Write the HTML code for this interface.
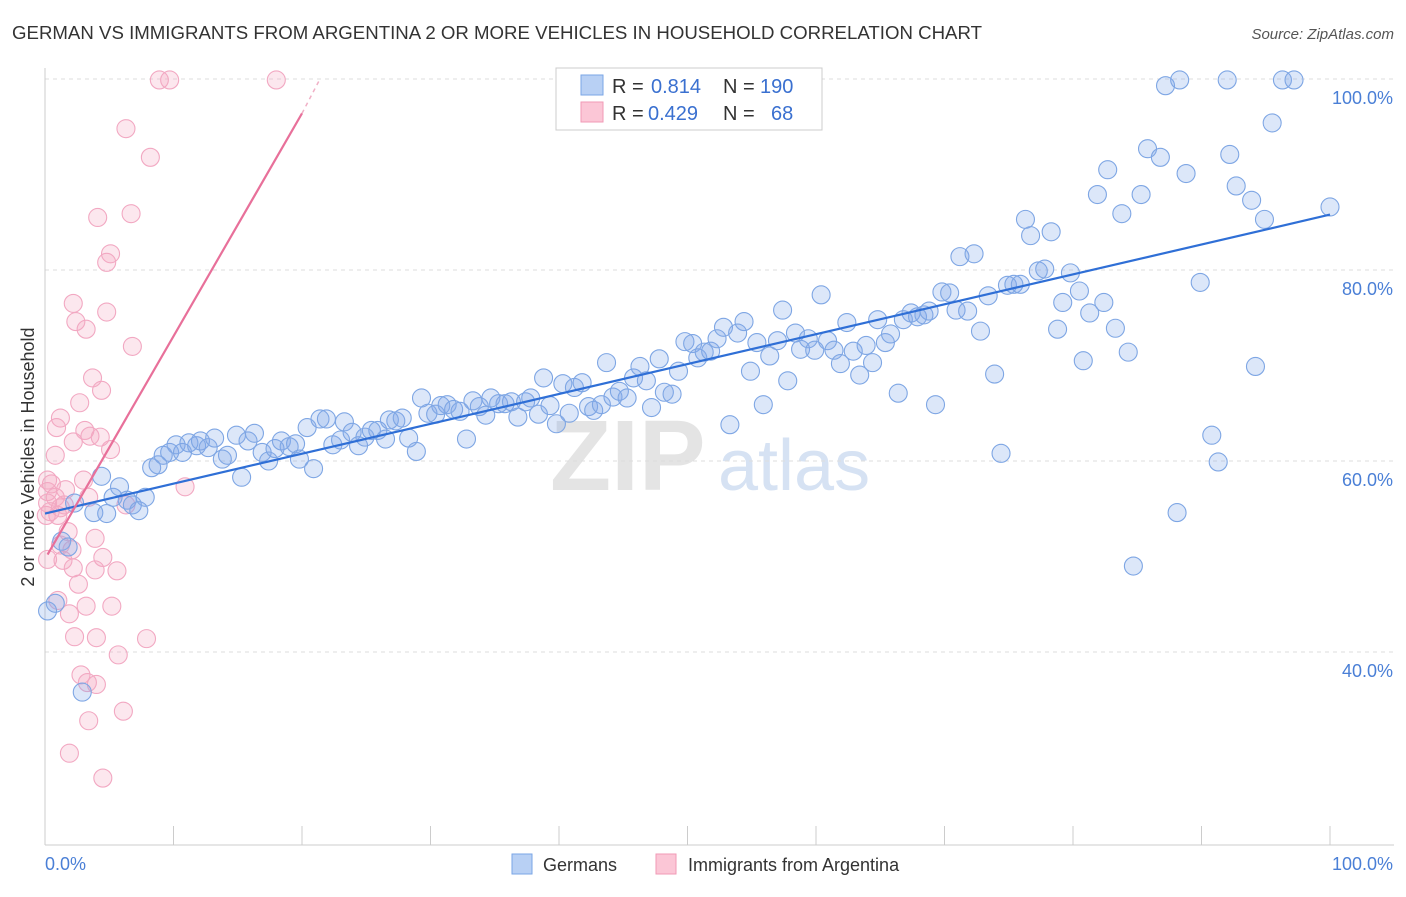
<!DOCTYPE html>
<html><head><meta charset="utf-8">
<style>
body{margin:0;background:#fff;font-family:"Liberation Sans",sans-serif;}
svg text{font-family:"Liberation Sans",sans-serif;}
</style></head>
<body>
<svg id="chart" width="1406" height="892" xmlns="http://www.w3.org/2000/svg">
<text x="12" y="39" font-size="18" fill="#333" textLength="970" lengthAdjust="spacingAndGlyphs">GERMAN VS IMMIGRANTS FROM ARGENTINA 2 OR MORE VEHICLES IN HOUSEHOLD CORRELATION CHART</text>
<text x="1394" y="39" font-size="15" fill="#555" text-anchor="end" font-style="italic">Source: ZipAtlas.com</text>
<text x="550" y="490" font-size="100" fill="#e4e4e4" font-family="Liberation Serif" font-weight="bold">ZIP</text>
<text x="718" y="490" font-size="72" fill="#d6e2f3">atlas</text>
<text transform="translate(34,457) rotate(-90)" font-size="18" fill="#333" text-anchor="middle">2 or more Vehicles in Household</text>
<g id="grid"></g><g id="axes"></g><g id="pink"></g><g id="blue"></g><g id="lines"></g>
<g>
<rect x="556" y="68" width="266" height="62" fill="#fff" stroke="#ccc"/>
<rect x="581" y="75" width="22" height="20" fill="#b8d0f4" stroke="#7aa6e6"/>
<rect x="581" y="102" width="22" height="20" fill="#fbc6d6" stroke="#f09ab6"/>
<text x="612" y="93" font-size="20" fill="#333">R =</text>
<text x="651" y="93" font-size="20" fill="#3a70d0">0.814</text>
<text x="723" y="93" font-size="20" fill="#333">N =</text>
<text x="760" y="93" font-size="20" fill="#3a70d0">190</text>
<text x="612" y="120" font-size="20" fill="#333">R =</text>
<text x="648" y="120" font-size="20" fill="#3a70d0">0.429</text>
<text x="723" y="120" font-size="20" fill="#333">N =</text>
<text x="771" y="120" font-size="20" fill="#3a70d0">68</text>
</g>
<g>
<rect x="512" y="854" width="20" height="20" fill="#b8d0f4" stroke="#7aa6e6"/>
<text x="543" y="871" font-size="18" fill="#333">Germans</text>
<rect x="656" y="854" width="20" height="20" fill="#fbc6d6" stroke="#f09ab6"/>
<text x="688" y="871" font-size="18" fill="#333">Immigrants from Argentina</text>
</g>
</svg>
<script>
const xTicks=[0,10,20,30,40,50,60,70,80,90,100];
const yTicks=[40,60,80,100];
const yTickLabels=["40.0%","60.0%","80.0%","100.0%"];
const germans=[[0.2,44.3],[0.8,45.1],[2.9,35.8],[1.3,51.6],[1.8,51.0],[2.3,55.6],[3.8,54.6],[4.4,58.4],[4.8,54.5],[5.3,56.2],[5.8,57.3],[6.4,55.9],[6.8,55.4],[7.3,54.8],[7.8,56.2],[8.3,59.3],[8.8,59.6],[9.2,60.6],[9.7,60.9],[10.2,61.7],[10.7,60.9],[11.2,61.9],[11.8,61.6],[12.1,62.1],[12.7,61.4],[13.2,62.4],[13.8,60.2],[14.2,60.6],[14.9,62.7],[15.3,58.3],[15.8,62.1],[16.3,62.9],[16.9,60.9],[17.4,60.0],[17.9,61.3],[18.4,62.1],[19.0,61.5],[19.5,61.8],[19.8,60.2],[20.4,63.5],[20.9,59.2],[21.4,64.4],[21.9,64.4],[22.4,61.7],[23.0,62.2],[23.3,64.1],[23.9,63.0],[24.4,61.6],[24.9,62.5],[25.4,63.2],[25.9,63.2],[26.5,62.3],[26.8,64.3],[27.3,64.2],[27.8,64.5],[28.3,62.4],[28.9,61.0],[29.3,66.6],[29.8,65.0],[30.4,64.9],[30.8,65.8],[31.3,65.9],[31.8,65.4],[32.3,65.2],[32.8,62.3],[33.3,66.3],[33.8,65.7],[34.3,64.8],[34.7,66.6],[35.3,66.0],[35.8,66.0],[36.3,66.2],[36.8,64.6],[37.4,66.2],[37.8,66.6],[38.4,64.9],[38.8,68.7],[39.3,65.8],[39.8,63.9],[40.3,68.1],[40.8,65.0],[41.2,67.7],[41.8,68.2],[42.3,65.7],[42.7,65.3],[43.3,65.9],[43.7,70.3],[44.2,66.7],[44.7,67.3],[45.3,66.6],[45.8,68.7],[46.3,69.9],[46.8,68.4],[47.2,65.6],[47.8,70.7],[48.2,67.2],[48.8,67.0],[49.3,69.4],[49.8,72.5],[50.4,72.3],[50.8,70.8],[51.3,71.4],[51.8,71.5],[52.3,72.8],[52.8,74.0],[53.3,63.8],[53.9,73.4],[54.4,74.6],[54.9,69.4],[55.4,72.4],[55.9,65.9],[56.4,71.0],[57.0,72.6],[57.4,75.8],[57.8,68.4],[58.4,73.4],[58.8,71.7],[59.4,72.8],[59.9,71.6],[60.4,77.4],[60.9,72.6],[61.4,71.6],[61.9,70.2],[62.4,74.5],[62.9,71.5],[63.4,69.0],[63.9,72.1],[64.4,70.3],[64.8,74.8],[65.4,72.4],[65.8,73.3],[66.4,67.1],[66.8,74.8],[67.4,75.5],[67.9,75.1],[68.4,75.3],[68.8,75.7],[69.3,65.9],[69.8,77.7],[70.4,77.6],[70.9,75.8],[71.2,81.4],[71.8,75.7],[72.3,81.7],[72.8,73.6],[73.4,77.3],[73.9,69.1],[74.4,60.8],[74.9,78.4],[75.4,78.5],[75.9,78.5],[76.3,85.3],[76.7,83.6],[77.3,79.9],[77.8,80.1],[78.3,84.0],[78.8,73.8],[79.2,76.6],[79.8,79.7],[80.5,77.8],[80.8,70.5],[81.3,75.5],[81.9,87.9],[82.4,76.6],[82.7,90.5],[83.3,73.9],[83.8,85.9],[84.3,71.4],[84.7,49.0],[85.3,87.9],[85.8,92.7],[86.8,91.8],[87.2,99.3],[88.1,54.6],[88.3,99.9],[88.8,90.1],[89.9,78.7],[90.8,62.7],[91.3,59.9],[92.0,99.9],[92.2,92.1],[92.7,88.8],[93.9,87.3],[94.2,69.9],[94.9,85.3],[95.5,95.4],[96.3,99.9],[97.2,99.9],[100,86.6]];
const argentina=[[8.9,99.9],[9.7,99.9],[18.0,99.9],[6.3,94.8],[8.2,91.8],[4.1,85.5],[6.7,85.9],[5.1,81.7],[4.8,80.8],[2.2,76.5],[4.8,75.6],[2.4,74.6],[3.2,73.8],[6.8,72.0],[3.7,68.7],[4.4,67.4],[2.7,66.1],[1.2,64.5],[0.9,63.5],[3.1,63.2],[2.2,62.0],[3.5,62.6],[4.3,62.5],[5.1,61.2],[0.8,60.6],[0.2,58.0],[0.5,57.6],[3.0,58.0],[1.6,57.0],[0.2,56.8],[0.8,56.2],[3.4,56.2],[0.2,55.6],[1.2,55.1],[0.4,54.7],[1.5,55.4],[1.0,54.3],[6.3,55.4],[10.9,57.3],[0.1,54.3],[1.8,52.6],[3.9,51.9],[1.2,51.2],[2.1,50.7],[0.2,49.7],[4.5,49.9],[1.4,49.6],[2.2,48.8],[3.9,48.6],[5.6,48.5],[2.6,47.1],[1.0,45.4],[3.2,44.8],[5.2,44.8],[1.9,44.0],[2.3,41.6],[4.0,41.5],[7.9,41.4],[5.7,39.7],[2.8,37.6],[3.3,36.8],[4.0,36.6],[3.4,32.8],[6.1,33.8],[1.9,29.4],[4.5,26.8]];
const blueTrend=[[0,54.5],[100,85.8]];
const pinkTrend=[[0.2,50.2],[20,96.4]];
const pinkTrendExt=[[20,96.4],[21.4,100]];

const NS="http://www.w3.org/2000/svg";
const X=v=>45+v*12.85;
const Y=v=>79+(100-v)*9.55;
function mk(tag,attrs,parent){const e=document.createElementNS(NS,tag);for(const k in attrs)e.setAttribute(k,attrs[k]);document.getElementById(parent).appendChild(e);return e;}

yTicks.forEach((t,i)=>{
  const g=mk('line',{x1:45,x2:1394,y1:Y(t),y2:Y(t),stroke:'#ddd','stroke-dasharray':'4,4'},'grid');
  
  
  const l=mk('text',{x:1393,y:Y(t)+25,'font-size':18,fill:'#4a7fd6','text-anchor':'end'},'axes');
  l.textContent=yTickLabels[i];
  
  
});
const ax=mk('line',{x1:45,x2:1394,y1:845,y2:845,stroke:'#ccc'},'axes');


const ay=mk('line',{x1:45,x2:45,y1:68,y2:845,stroke:'#ccc'},'axes');


xTicks.forEach(t=>{
  const tk=mk('line',{x1:X(t),x2:X(t),y1:826,y2:845,stroke:'#ccc'},'axes');
  
  
});
const x0=mk('text',{x:45,y:870,'font-size':18,fill:'#4a7fd6'},'axes');x0.textContent='0.0%';


const x1=mk('text',{x:1393,y:870,'font-size':18,fill:'#4a7fd6','text-anchor':'end'},'axes');x1.textContent='100.0%';



argentina.forEach(p=>{
  const c=mk('circle',{cx:X(p[0]),cy:Y(p[1]),r:9,fill:'rgba(245,170,195,0.28)',stroke:'#f2a8c2','stroke-width':1.1},'pink');
  
  
});
germans.forEach(p=>{
  const c=mk('circle',{cx:X(p[0]),cy:Y(p[1]),r:9,fill:'rgba(130,170,235,0.28)',stroke:'#7ea6e4','stroke-width':1.1},'blue');
  
  
});
const bl=mk('line',{x1:X(blueTrend[0][0]),y1:Y(blueTrend[0][1]),x2:X(blueTrend[1][0]),y2:Y(blueTrend[1][1]),stroke:'#2f6fd6','stroke-width':2.2},'lines');


const pl=mk('line',{x1:X(pinkTrend[0][0]),y1:Y(pinkTrend[0][1]),x2:X(pinkTrend[1][0]),y2:Y(pinkTrend[1][1]),stroke:'#e8709a','stroke-width':2.2},'lines');


const pe=mk('line',{x1:X(pinkTrendExt[0][0]),y1:Y(pinkTrendExt[0][1]),x2:X(pinkTrendExt[1][0]),y2:Y(pinkTrendExt[1][1]),stroke:'#f0b0c6','stroke-width':1.5,'stroke-dasharray':'4,4'},'lines');


</script>
</body></html>
